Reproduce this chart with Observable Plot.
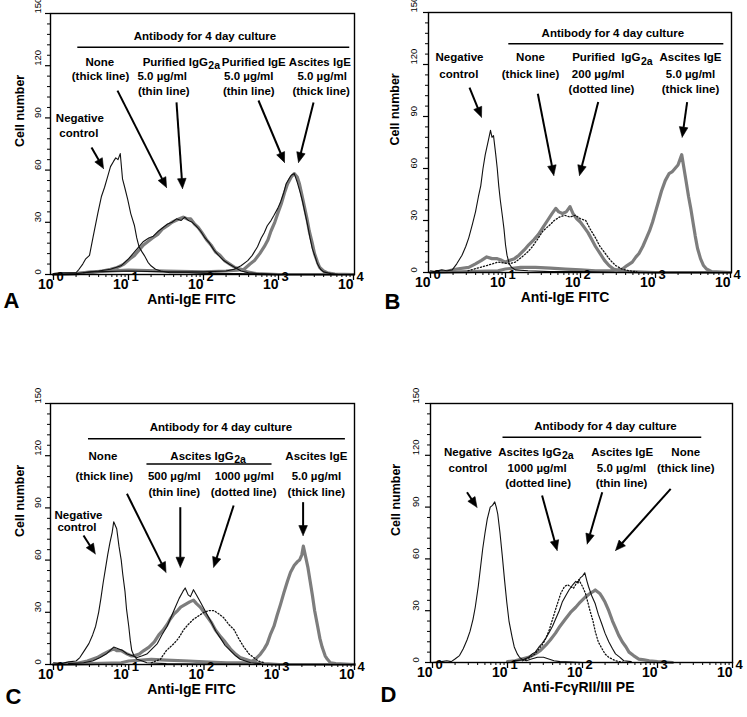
<!DOCTYPE html>
<html><head><meta charset="utf-8">
<script src="https://cdn.jsdelivr.net/npm/d3@7"></script>
<script src="https://cdn.jsdelivr.net/npm/@observablehq/plot@0.6"></script>
<style>
body{margin:0;background:#fff;}
#fig{position:relative;width:747px;height:717px;overflow:hidden;background:#fff;}
.panel{position:absolute;}
</style></head><body><div id="fig"></div>
<script>
// ---------- axis values ----------
const yMajor = [0, 30, 60, 90, 120, 150];
const yMinor = [6,12,18,24,36,42,48,54,66,72,78,84,96,102,108,114,126,132,138,144];
const decades = [0, 1, 2, 3, 4];           // exponents of 10
const minorMult = [2,3,4,5,6,7,8,9];

// ---------- curves: [log10 fluorescence, cell number] ----------
// Panel A
const negA = [[0,0.5],[0.1,1],[0.2,1],[0.3,1],[0.34,3],[0.39,6],[0.43,9],[0.48,11],[0.53,22],[0.59,35],[0.64,45],[0.68,50],[0.72,56],[0.76,62],[0.8,65],[0.83,67],[0.86,66],[0.89,69.5],[0.92,55],[0.95,50],[0.99,43],[1.03,35],[1.08,28],[1.11,21],[1.14,16],[1.18,13],[1.21,11],[1.26,7],[1.3,5],[1.36,3],[1.43,2],[1.55,1],[1.8,1],[2.1,0.5],[2.5,0.5],[3,0],[4,0]];
const noneA = [[0,0],[0.3,0.5],[0.5,1],[0.65,2],[0.76,3],[0.85,4],[0.94,6],[1.02,9],[1.08,11],[1.14,14],[1.2,17],[1.26,19],[1.32,21],[1.39,23],[1.45,26],[1.52,28],[1.58,30],[1.63,31],[1.68,32],[1.73,33],[1.78,32],[1.83,32],[1.88,29],[1.93,27],[1.98,24],[2.04,20],[2.1,17],[2.16,13],[2.22,11],[2.28,8],[2.35,6],[2.42,4],[2.5,3],[2.58,1.5],[2.7,0.5],[3,0],[4,0]];
const igg2aA = [[0.4,1],[0.6,2],[0.76,3],[0.9,5],[1.0,9],[1.08,13],[1.14,16],[1.2,19],[1.27,21],[1.33,22],[1.4,25],[1.46,27],[1.52,29],[1.58,30],[1.64,32],[1.7,31],[1.75,33],[1.8,31],[1.85,30],[1.9,28],[1.96,25],[2.02,21],[2.08,18],[2.14,14],[2.2,11],[2.27,8],[2.34,6],[2.42,4],[2.5,2],[2.6,1],[2.75,0.5],[3,0]];
const purIgEA = [[0,0],[0.3,0.5],[0.5,1.5],[1,2],[1.5,1.5],[2,1.5],[2.3,2],[2.41,3],[2.5,5],[2.59,8],[2.65,11],[2.72,16],[2.77,21],[2.81,24],[2.85,28],[2.9,31],[2.94,34],[2.99,38],[3.03,42],[3.07,47],[3.1,52],[3.14,55],[3.17,57],[3.21,58],[3.25,53],[3.29,47],[3.32,42],[3.36,34],[3.39,28],[3.42,21],[3.45,15],[3.49,10],[3.52,6],[3.56,3],[3.6,1.5],[3.7,0.5],[3.8,0],[4,0]];
const ascIgEA = [[0,0],[0.3,0.5],[0.5,1.5],[1,2.5],[1.5,2],[2,1.5],[2.3,2],[2.45,2.5],[2.54,3],[2.62,6],[2.68,8],[2.75,12],[2.81,16],[2.86,20],[2.9,25],[2.95,30],[2.99,35],[3.04,41],[3.08,47],[3.12,52],[3.17,56],[3.21,58],[3.25,56],[3.28,52],[3.31,46],[3.34,40],[3.38,32],[3.41,25],[3.45,18],[3.48,12],[3.52,7],[3.55,4],[3.6,2],[3.65,1],[3.75,0.3],[4,0]];
// Panel B
const negB = [[0,1],[0.05,0.5],[0.15,1.5],[0.22,1],[0.29,1.5],[0.35,5],[0.42,10],[0.47,15],[0.51,20],[0.56,28],[0.6,35],[0.64,44],[0.67,50],[0.7,60],[0.73,68],[0.77,76],[0.8,82],[0.82,78],[0.84,79],[0.87,68],[0.89,60],[0.91,50],[0.93,42],[0.96,32],[0.98,25],[1.0,16],[1.02,10],[1.05,5],[1.08,3],[1.13,1.5],[1.3,1],[1.6,0.5],[2,0.5],[2.5,0],[4,0]];
const noneB = [[0,0],[0.2,0.5],[0.35,2],[0.51,3],[0.6,5],[0.68,7],[0.75,9],[0.82,8],[0.89,8],[0.95,7],[1.0,6],[1.06,7],[1.12,8],[1.18,10],[1.25,13],[1.31,16],[1.38,19],[1.44,22],[1.5,26],[1.56,30],[1.62,34],[1.67,37],[1.71,35],[1.76,34],[1.81,35],[1.86,38],[1.9,34],[1.95,31],[2.0,29],[2.05,26],[2.1,23],[2.15,19],[2.2,15],[2.26,11],[2.32,7],[2.38,4],[2.44,2],[2.52,1],[2.65,0.5],[3,0],[4,0]];
const igg2aB = [[0.5,1],[0.75,4],[0.9,6],[1.05,5],[1.13,6],[1.22,9],[1.3,12],[1.36,15],[1.44,20],[1.5,24],[1.58,27],[1.65,30],[1.72,32],[1.79,33],[1.86,32],[1.93,33],[2.0,31],[2.07,30],[2.13,25],[2.2,20],[2.26,15],[2.33,11],[2.4,7],[2.47,4],[2.55,2],[2.64,1],[2.75,0.5]];
const ascIgEB = [[0,0],[0.5,0.5],[0.9,1],[1.0,2],[1.2,3],[1.4,3],[1.6,2.5],[1.8,2],[2.0,1.5],[2.2,1],[2.4,1],[2.5,1.5],[2.56,2],[2.62,4],[2.69,6],[2.74,9],[2.78,11],[2.83,15],[2.87,19],[2.92,24],[2.96,29],[3.0,35],[3.04,41],[3.08,47],[3.13,53],[3.18,57],[3.22,58],[3.26,60],[3.3,62],[3.35,68],[3.38,60],[3.41,52],[3.44,44],[3.47,37],[3.5,29],[3.53,21],[3.56,14],[3.6,8],[3.64,4],[3.68,2],[3.75,0.5],[4,0]];
// Panel C
const negC = [[0,1],[0.1,0.5],[0.2,1.5],[0.3,2],[0.35,4],[0.41,8],[0.47,12],[0.52,17],[0.56,22],[0.6,30],[0.63,38],[0.66,47],[0.69,55],[0.72,63],[0.75,70],[0.78,76],[0.8,82],[0.82,80],[0.84,78],[0.87,68],[0.9,60],[0.92,52],[0.95,42],[0.97,32],[1.0,22],[1.02,14],[1.04,8],[1.07,5],[1.11,3],[1.18,2],[1.24,1],[1.5,0.5],[2,0.3],[3,0],[4,0]];
const noneC = [[0,0],[0.3,0.5],[0.45,2],[0.58,4],[0.66,6],[0.75,8],[0.8,9],[0.84,8],[0.9,8],[0.98,6],[1.03,5],[1.07,5],[1.14,6],[1.2,8],[1.27,10],[1.34,13],[1.4,17],[1.46,20],[1.51,23],[1.55,26],[1.6,29],[1.65,31],[1.69,33],[1.73,34],[1.77,35],[1.81,36],[1.86,37],[1.9,35],[1.95,33],[2.0,30],[2.05,27],[2.1,24],[2.15,20],[2.22,16],[2.28,13],[2.35,9],[2.42,6],[2.48,4],[2.55,3],[2.62,2],[2.7,1],[2.8,0.5],[3,0],[4,0]];
const igg500C = [[0.2,0.5],[0.4,1],[0.52,2],[0.62,4],[0.7,6],[0.75,8],[0.8,10],[0.86,9],[0.92,8],[0.98,6],[1.05,5],[1.11,4],[1.18,5],[1.24,6],[1.31,9],[1.38,12],[1.44,17],[1.51,22],[1.57,28],[1.62,33],[1.67,38],[1.72,42],[1.75,44],[1.79,40],[1.82,39],[1.86,43],[1.9,40],[1.95,36],[2.0,32],[2.05,28],[2.1,24],[2.16,19],[2.22,15],[2.28,11],[2.35,8],[2.42,5],[2.48,3],[2.55,2],[2.62,1],[2.75,0.5]];
const igg1000C = [[1.3,1],[1.42,3],[1.5,8],[1.55,10],[1.6,12],[1.66,15],[1.73,20],[1.79,23],[1.86,26],[1.93,28],[2.0,30],[2.07,31],[2.13,31],[2.2,29],[2.26,27],[2.33,23],[2.4,20],[2.46,15],[2.53,10],[2.6,6],[2.66,4],[2.72,2],[2.8,1]];
const ascIgEC = [[0,0],[0.5,0.5],[0.9,1],[1.0,2],[1.3,3],[1.5,2.5],[1.8,2],[2.0,1.5],[2.3,1],[2.55,1],[2.62,1.5],[2.68,3],[2.75,6],[2.8,9],[2.84,12],[2.88,17],[2.93,22],[2.97,28],[3.02,35],[3.06,41],[3.11,48],[3.15,53],[3.2,57],[3.24,59],[3.27,60],[3.3,63],[3.32,68],[3.35,62],[3.38,56],[3.41,48],[3.44,40],[3.47,31],[3.51,22],[3.54,15],[3.57,10],[3.61,5],[3.64,3],[3.68,1],[3.75,0.5],[4,0]];
// Panel D
const negD = [[0,0],[0.12,0.5],[0.19,1],[0.25,0.5],[0.3,2],[0.36,4],[0.41,8],[0.46,13],[0.5,18],[0.54,25],[0.57,32],[0.61,44],[0.64,55],[0.67,66],[0.7,75],[0.73,83],[0.77,90],[0.8,91],[0.83,93],[0.85,90],[0.87,86],[0.9,75],[0.93,62],[0.96,48],[0.99,35],[1.02,24],[1.06,15],[1.09,9],[1.13,5],[1.16,3],[1.19,2],[1.25,1],[1.32,2],[1.4,3],[1.48,3],[1.55,2],[1.62,1],[1.7,0.5],[2,0],[4,0]];
const igg1000D = [[1.2,1],[1.3,3],[1.37,5],[1.42,8],[1.46,10],[1.5,13],[1.55,18],[1.6,25],[1.65,32],[1.71,40],[1.76,44],[1.8,45],[1.84,44],[1.88,43],[1.92,46],[1.95,48],[2.0,44],[2.04,40],[2.07,35],[2.1,30],[2.14,24],[2.17,18],[2.21,12],[2.26,8],[2.3,5],[2.35,3],[2.44,1],[2.55,0]];
const ascIgED = [[1.1,1],[1.2,1.5],[1.28,3],[1.33,5],[1.37,6],[1.42,9],[1.46,11],[1.51,14],[1.55,17],[1.6,21],[1.64,25],[1.69,30],[1.73,35],[1.78,39],[1.82,42],[1.87,45],[1.91,47],[1.94,46],[1.97,49],[2.0,50],[2.03,52],[2.06,47],[2.08,44],[2.12,39],[2.17,34],[2.21,28],[2.26,22],[2.3,17],[2.35,12],[2.4,8],[2.44,5],[2.5,3],[2.55,1],[2.65,0.5]];
const noneD = [[1.0,0.5],[1.1,1],[1.19,2],[1.28,3],[1.37,5],[1.44,7],[1.51,10],[1.57,13],[1.64,17],[1.7,21],[1.77,25],[1.84,29],[1.91,32],[1.97,35],[2.04,38],[2.1,40],[2.14,41],[2.17,42],[2.2,41],[2.23,40],[2.26,38],[2.3,35],[2.35,30],[2.4,24],[2.44,20],[2.48,16],[2.53,12],[2.58,9],[2.62,6],[2.68,4],[2.75,2],[2.82,1.5],[2.89,1],[3.0,0.5],[3.2,0]];

// ---------- texts ----------
const headerText = "Antibody for 4 day culture";
const xLabels = {A: "Anti-IgE FITC", B: "Anti-IgE FITC", C: "Anti-IgE FITC", D: "Anti-FcγRII/III PE"};
const yLabel = "Cell number";

// annotations: lx = log10 position, y = cell number
const textsA = [
  {lx:2.02,y:136.8,t:headerText,a:"m"},
  {lx:0.617,y:122,t:"None",a:"m"},{lx:0.627,y:113.8,t:"(thick line)",a:"m"},
  {lx:2.058,y:122,t:"Purified IgG",a:"e"},{lx:2.058,y:122,t:"2a",a:"s"},
  {lx:1.449,y:113.8,t:"5.0 µg/ml",a:"m"},{lx:1.471,y:105.3,t:"(thin line)",a:"m"},
  {lx:2.671,y:122,t:"Purified IgE",a:"m"},{lx:2.604,y:113.8,t:"5.0 µg/ml",a:"m"},{lx:2.604,y:105.3,t:"(thin line)",a:"m"},
  {lx:3.551,y:122,t:"Ascites IgE",a:"m"},{lx:3.582,y:113.8,t:"5.0 µg/ml",a:"m"},{lx:3.569,y:105.3,t:"(thick line)",a:"m"},
  {lx:0.351,y:89.5,t:"Negative",a:"m"},{lx:0.338,y:80.9,t:"control",a:"m"}
];
const rulesA = [{l1:0.324,l2:3.95,y:130.6}];
const arrowsA = [[0.507,73,0.667,60.9],[0.853,105.7,1.507,50],[1.64,98.9,1.72,49.4],[2.733,100,3.08,64.4],[3.467,98.9,3.267,64.4]];

const textsB = [
  {lx:2.431,y:138.1,t:headerText,a:"m"},
  {lx:0.387,y:123.9,t:"Negative",a:"m"},{lx:0.378,y:114.3,t:"control",a:"m"},
  {lx:1.333,y:123.9,t:"None",a:"m"},{lx:1.333,y:114.3,t:"(thick line)",a:"m"},
  {lx:2.80,y:123.9,t:"Purified  IgG",a:"e"},{lx:2.80,y:123.9,t:"2a",a:"s"},
  {lx:2.236,y:114.3,t:"200 µg/ml",a:"m"},{lx:2.28,y:105.4,t:"(dotted line)",a:"m"},
  {lx:3.467,y:123.9,t:"Ascites IgE",a:"m"},{lx:3.467,y:114.3,t:"5.0 µg/ml",a:"m"},{lx:3.467,y:105.4,t:"(thick line)",a:"m"}
];
const rulesB = [{l1:1.044,l2:3.911,y:132}];
const arrowsB = [[0.52,106.6,0.68,89.6],[1.431,103.1,1.644,56],[2.236,98.3,1.987,56],[3.422,98.3,3.356,78.1]];

const textsC = [
  {lx:2.226,y:136.4,t:headerText,a:"m"},
  {lx:0.657,y:119.7,t:"None",a:"m"},{lx:0.674,y:108.2,t:"(thick line)",a:"m"},
  {lx:2.394,y:119.7,t:"Ascites IgG",a:"e"},{lx:2.394,y:119.7,t:"2a",a:"s"},
  {lx:1.605,y:108.2,t:"500 µg/ml",a:"m"},{lx:1.605,y:99,t:"(thin line)",a:"m"},
  {lx:2.536,y:108.2,t:"1000 µg/ml",a:"m"},{lx:2.527,y:99,t:"(dotted line)",a:"m"},
  {lx:3.493,y:119.7,t:"Ascites IgE",a:"m"},{lx:3.493,y:108.2,t:"5.0 µg/ml",a:"m"},{lx:3.493,y:99,t:"(thick line)",a:"m"},
  {lx:0.332,y:85.6,t:"Negative",a:"m"},{lx:0.311,y:78.6,t:"control",a:"m"}
];
const rulesC = [{l1:0.465,l2:3.879,y:129.7},{l1:1.242,l2:2.904,y:115.3}];
const arrowsC = [[0.399,74.1,0.555,63.6],[0.976,98.1,1.495,53],[1.685,90.4,1.685,55.9],[2.394,91.4,2.128,55.9],[3.317,93.3,3.317,74.1]];

const textsD = [
  {lx:2.307,y:136.8,t:headerText,a:"m"},
  {lx:0.473,y:121.8,t:"Negative",a:"m"},{lx:0.473,y:112.5,t:"control",a:"m"},
  {lx:1.72,y:121.8,t:"Ascites IgG",a:"e"},{lx:1.72,y:121.8,t:"2a",a:"s"},
  {lx:1.395,y:112.5,t:"1000 µg/ml",a:"m"},{lx:1.408,y:103.8,t:"(dotted line)",a:"m"},
  {lx:2.530,y:121.8,t:"Ascites IgE",a:"m"},{lx:2.521,y:112.5,t:"5.0 µg/ml",a:"m"},{lx:2.521,y:103.8,t:"(thin line)",a:"m"},
  {lx:3.376,y:121.8,t:"None",a:"m"},{lx:3.376,y:112.5,t:"(thick line)",a:"m"}
];
const rulesD = [{l1:0.94,l2:3.59,y:130.5}];
const arrowsD = [[0.46,98.6,0.593,89.9],[1.461,96.7,1.662,64.9],[2.263,98.6,2.063,68.7],[3.176,100.6,2.441,64.9]];

// ---------- drawing ----------
const FONT = "'Liberation Sans', Arial, Helvetica, sans-serif";
const X = l => Math.pow(10, l);
const lineStyles = {
  thick: {stroke: "#7d7d7d", strokeWidth: 3.2},
  thin: {stroke: "#111", strokeWidth: 1.1},
  dotted: {stroke: "#111", strokeWidth: 1.3, strokeDasharray: "1.2,2"}
};
const minorX = [];
for (const k of [0,1,2,3]) for (const m of minorMult) minorX.push(m * Math.pow(10, k));

// arrow shafts + filled heads, built in data units from the panel's scale ratios
function arrowParts(arrows, g) {
  const pd = (g.width - g.mL - g.mR - g.iL - g.iR) / 4;   // px per decade
  const pu = (g.height - g.mT - g.mB) / 150;              // px per cell
  const H = 10, W = 4.3;
  const shafts = [], heads = [];
  arrows.forEach((a, i) => {
    const [l1, y1, l2, y2] = a;
    const vx = (l2 - l1) * pd, vy = -(y2 - y1) * pu;
    const len = Math.hypot(vx, vy), ux = vx / len, uy = vy / len;
    const toData = (px, py) => [l2 + px / pd, y2 - py / pu];
    const base = toData(-H * ux, -H * uy);
    const c1 = toData(-H * ux - W * uy, -H * uy + W * ux);
    const c2 = toData(-H * ux + W * uy, -H * uy - W * ux);
    shafts.push({l1, y1, l2: base[0] + 0.3 * ux / pd, y2: base[1] - 0.3 * uy / pu});
    heads.push({i, l: l2, y: y2}, {i, l: c1[0], y: c1[1]}, {i, l: c2[0], y: c2[1]}, {i, l: l2, y: y2});
  });
  return {shafts, heads};
}

function panel(cfg) {
  const g = cfg.g;
  const marks = [];
  for (const c of cfg.curves) {
    marks.push(Plot.line(c.data, {x: d => X(d[0]), y: d => d[1], ...lineStyles[c.style], strokeLinejoin: "round"}));
  }
  marks.push(Plot.frame({stroke: "#000", strokeWidth: 1.4}));
  marks.push(Plot.axisY({ticks: yMajor, tickSize: 5, tickFormat: () => "", strokeWidth: 1.2}));
  marks.push(Plot.axisY({ticks: yMinor, tickSize: 3, tickFormat: () => "", strokeWidth: 1}));
  marks.push(Plot.axisX({ticks: decades.map(X), tickSize: 6, tickFormat: () => "", strokeWidth: 1.3}));
  marks.push(Plot.axisX({ticks: minorX, tickSize: 3, tickFormat: () => "", strokeWidth: 1}));
  marks.push(Plot.text(yMajor, {y: d => d, frameAnchor: "left", dx: g.ytick, text: d => String(d), rotate: -90, fontSize: 9.5, fill: "#000"}));
  marks.push(Plot.text(decades, {x: d => X(d), frameAnchor: "bottom", dy: 14, text: () => "10", textAnchor: "end", fontSize: 14, fontWeight: "bold"}));
  marks.push(Plot.text(decades, {x: d => X(d), frameAnchor: "bottom", dy: 6, dx: 3, text: d => String(d), textAnchor: "start", fontSize: 13, fontWeight: "bold"}));
  marks.push(Plot.text([cfg.xLabel], {frameAnchor: "bottom", dy: g.xlabDy, dx: g.xlabDx, text: d => d, fontSize: 14, fontWeight: "bold"}));
  marks.push(Plot.text([yLabel], {frameAnchor: "left", dx: g.ylab, dy: 3, text: d => d, rotate: -90, fontSize: 12.5, fontWeight: "bold"}));
  marks.push(Plot.text([cfg.letter], {frameAnchor: "bottom-left", dx: g.letDx, dy: g.letDy, text: d => d, textAnchor: "start", fontSize: 22, fontWeight: "bold"}));
  marks.push(Plot.ruleY(cfg.rules, {y: "y", x1: d => X(d.l1), x2: d => X(d.l2), strokeWidth: 1.5}));
  const common = {x: d => X(d.lx), y: "y", text: "t", fontWeight: "bold"};
  marks.push(Plot.text(cfg.texts.filter(d => d.a === "m"), {...common, fontSize: 11.5, textAnchor: "middle"}));
  marks.push(Plot.text(cfg.texts.filter(d => d.a === "e"), {...common, fontSize: 11.5, textAnchor: "end"}));
  marks.push(Plot.text(cfg.texts.filter(d => d.a === "s"), {...common, fontSize: 10.5, textAnchor: "start", dx: 0.5, dy: 3.5}));
  const {shafts, heads} = arrowParts(cfg.arrows, g);
  marks.push(Plot.link(shafts, {x1: d => X(d.l1), y1: "y1", x2: d => X(d.l2), y2: "y2", stroke: "#000", strokeWidth: 2}));
  marks.push(Plot.line(heads, {x: d => X(d.l), y: "y", z: "i", fill: "#000", stroke: "#000", strokeWidth: 0.6, strokeLinejoin: "miter"}));

  const svg = Plot.plot({
    width: g.width, height: g.height,
    marginLeft: g.mL, marginRight: g.mR, marginTop: g.mT, marginBottom: g.mB,
    x: {type: "log", domain: [1, 10000], insetLeft: g.iL, insetRight: g.iR, label: null},
    y: {domain: [0, 150], label: null},
    style: {fontFamily: FONT, background: "transparent", color: "#000", overflow: "visible"},
    marks
  });
  const div = document.createElement("div");
  div.className = "panel";
  div.style.left = g.left + "px";
  div.style.top = g.top + "px";
  div.appendChild(svg);
  document.getElementById("fig").appendChild(div);
}

panel({letter: "A", xLabel: xLabels.A, texts: textsA, rules: rulesA, arrows: arrowsA,
  curves: [{data: noneA, style: "thick"}, {data: ascIgEA, style: "thick"}, {data: negA, style: "thin"}, {data: igg2aA, style: "thin"}, {data: purIgEA, style: "thin"}],
  g: {left: 0, top: 0, width: 373, height: 320, mL: 50, mR: 19, mT: 13, mB: 46, iL: 3, iR: 1, ytick: -12.5, ylab: -31, xlabDx: -11, xlabDy: 29, letDx: -47, letDy: 33}});
panel({letter: "B", xLabel: xLabels.B, texts: textsB, rules: rulesB, arrows: arrowsB,
  curves: [{data: noneB, style: "thick"}, {data: ascIgEB, style: "thick"}, {data: negB, style: "thin"}, {data: igg2aB, style: "dotted"}],
  g: {left: 375, top: 0, width: 372, height: 320, mL: 53, mR: 16, mT: 12, mB: 48, iL: 2, iR: 1, ytick: -15, ylab: -34, xlabDx: -15, xlabDy: 29, letDx: -44, letDy: 36}});
panel({letter: "C", xLabel: xLabels.C, texts: textsC, rules: rulesC, arrows: arrowsC,
  curves: [{data: noneC, style: "thick"}, {data: ascIgEC, style: "thick"}, {data: negC, style: "thin"}, {data: igg500C, style: "thin"}, {data: igg1000C, style: "dotted"}],
  g: {left: 0, top: 390, width: 373, height: 327, mL: 50, mR: 19, mT: 13, mB: 53, iL: 3, iR: 0, ytick: -13, ylab: -31, xlabDx: -11, xlabDy: 29, letDx: -45, letDy: 39}});
panel({letter: "D", xLabel: xLabels.D, texts: textsD, rules: rulesD, arrows: arrowsD,
  curves: [{data: noneD, style: "thick"}, {data: negD, style: "thin"}, {data: ascIgED, style: "thin"}, {data: igg1000D, style: "dotted"}],
  g: {left: 375, top: 390, width: 372, height: 327, mL: 55, mR: 15, mT: 13, mB: 55, iL: 2, iR: 0, ytick: -15, ylab: -34.5, xlabDx: -3, xlabDy: 29, letDx: -50, letDy: 39}});
</script>
</body></html>
